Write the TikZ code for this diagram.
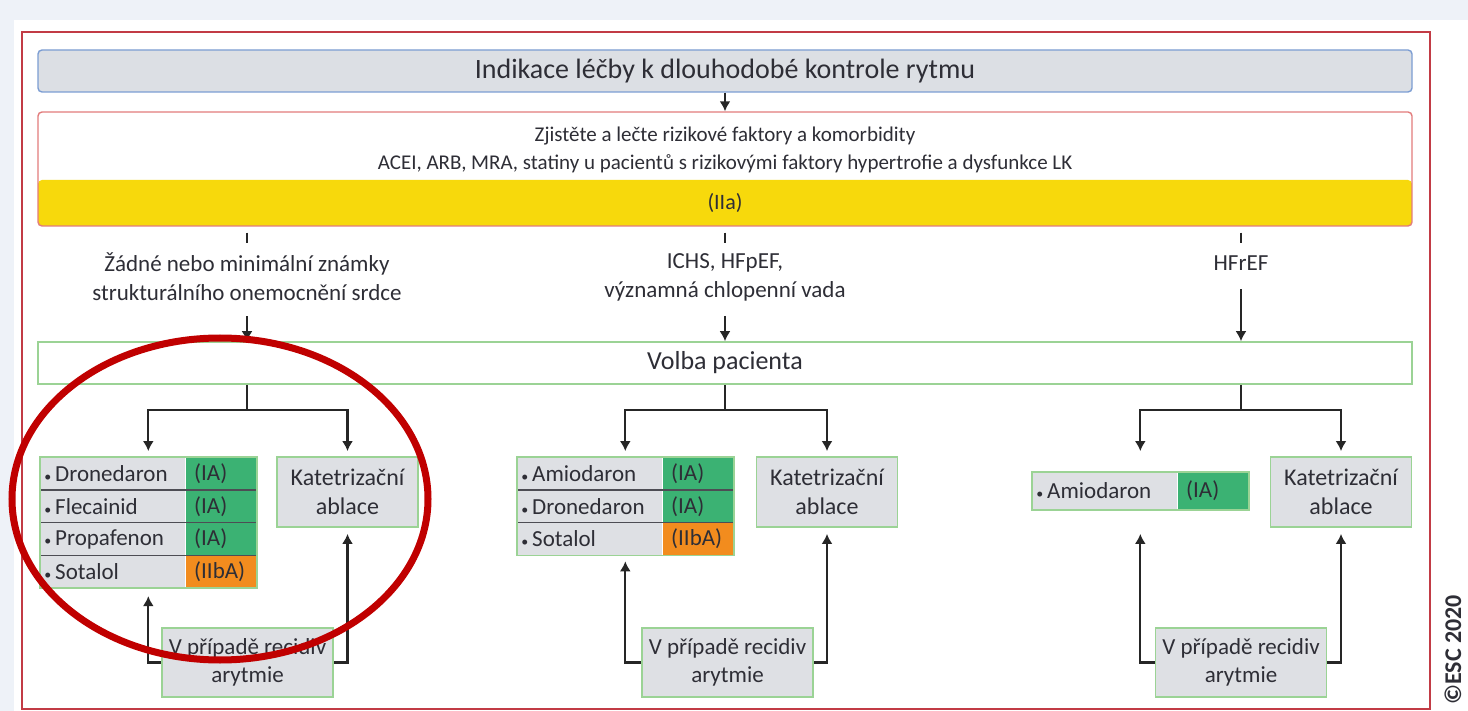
\documentclass[tikz,border=0pt]{standalone}
\usepackage{fontspec}
\setmainfont{Carlito}
\usetikzlibrary{arrows.meta,positioning,fit,calc}
\definecolor{ink}{HTML}{2E2E36}
\definecolor{pagetint}{HTML}{EEF2F8}
\definecolor{framered}{HTML}{C23B45}
\definecolor{titlefill}{HTML}{DCDFE4}
\definecolor{titleline}{HTML}{7C9DD3}
\definecolor{riskline}{HTML}{E27C7C}
\definecolor{bandyellow}{HTML}{F7D90C}
\definecolor{boxgreen}{HTML}{9BD395}
\definecolor{cellgray}{HTML}{DEE0E4}
\definecolor{classgreen}{HTML}{3BB273}
\definecolor{classorange}{HTML}{F28C1E}
\definecolor{ringred}{HTML}{C00000}
\newcommand{\itemdot}{{\fontsize{7}{7}\selectfont\textbullet}\,}

\begin{document}
\begin{tikzpicture}[
  x=0.5pt, y=-0.5pt,
  font=\fontsize{12}{14.5}\selectfont, text=ink,
  wide/.style={minimum width=687pt, inner sep=0pt, rounded corners=2pt},
  titlebar/.style={wide, draw=titleline, fill=titlefill, line width=0.7pt,
                   minimum height=21pt, font=\fontsize{14}{16}\selectfont},
  riskframe/.style={wide, draw=riskline, fill=white, line width=0.7pt,
                    minimum height=57pt,
                    path picture={\fill[bandyellow] (path picture bounding box.south west)
                      rectangle ([yshift=23pt]path picture bounding box.south east);}},
  choicebar/.style={draw=boxgreen, fill=white, line width=0.8pt, minimum width=687pt,
                    minimum height=21pt, inner sep=0pt, font=\fontsize{13}{15}\selectfont},
  cond/.style={align=center, font=\fontsize{11.5}{14.5}\selectfont},
  drug/.style={fill=cellgray, anchor=north west, align=left, text width=68.5pt,
               inner xsep=2pt, inner ysep=0pt, minimum height=16pt,
               font=\fontsize{11.5}{13}\selectfont},
  grade/.style={text width=27pt, inner xsep=4pt, inner ysep=0pt, align=left,
                minimum height=16pt, font=\fontsize{11.5}{13}\selectfont},
  IA/.style={grade, fill=classgreen},
  IIbA/.style={grade, fill=classorange},
  tabframe/.style={draw=boxgreen, line width=0.9pt, inner sep=0pt},
  sep/.style={draw=ink!85, line width=0.7pt},
  optbox/.style={draw=boxgreen, fill=cellgray, line width=0.9pt, align=center,
                 inner sep=0pt, minimum width=70.5pt, minimum height=35pt,
                 font=\fontsize{12}{14.5}\selectfont},
  relapse/.style={optbox, minimum width=85.5pt, minimum height=34.5pt,
                  font=\fontsize{11.5}{14}\selectfont},
  wire/.style={line width=1.1pt, draw=black!85},
  flow/.style={wire, -{Latex[length=5pt,width=5.5pt]}}
]
\useasboundingbox (0,0) rectangle (1468,711);
\fill[pagetint] (0,0) rectangle (1468,711);
\fill[white] (14,20) rectangle (1468,711);
\draw[framered, line width=1pt] (22,32) rectangle (1430,709);

% top bars
\node[titlebar] (title) at (725,71) {Indikace léčby k dlouhodobé kontrole rytmu};
\node[riskframe] (riskbox) at (725,169) {};
\node[align=center, font=\fontsize{10.5}{14}\selectfont] (riskfactors) at (725,150)
  {Zjistěte a lečte rizikové faktory a komorbidity\\
   ACEI, ARB, MRA, statiny u pacientů s rizikovými faktory hypertrofie a dysfunkce LK};
\node[font=\fontsize{11}{13}\selectfont] (iia) at (725,203) {(IIa)};
\draw[flow] (title) -- (riskbox);

% patient groups
\node[cond] (lab1) at (247,277) {Žádné nebo minimální známky\\strukturálního onemocnění srdce};
\node[cond] (lab2) at (725,277) {ICHS, HFpEF,\\významná chlopenní vada};
\node[cond] (lab3) at (1241,263) {HFrEF};
\foreach \lab in {lab1,lab2,lab3}
  \draw[wire] ($(riskbox.south -| \lab)+(0,6)$) -- ++(0,10);

\node[choicebar] (volba) at (725,363) {Volba pacienta\hspace{13pt}};
\draw[flow] ($(lab1.south)+(0,8)$) -- (lab1 |- volba.north);
\draw[flow] ($(lab2.south)+(0,8)$) -- (lab2 |- volba.north);
\draw[flow] ($(lab3.south)+(0,12)$) -- (lab3 |- volba.north);

% drug tables
\node[drug] (d1a) at (40,457) {\itemdot Dronedaron};
\node[drug, below=0pt of d1a] (d1b) {\itemdot Flecainid};
\node[drug, below=0pt of d1b] (d1c) {\itemdot Propafenon};
\node[drug, below=0pt of d1c] (d1d) {\itemdot Sotalol};
\node[IA, right=0pt of d1a] (c1a) {(IA)};
\node[IA, right=0pt of d1b] (c1b) {(IA)};
\node[IA, right=0pt of d1c] (c1c) {(IA)};
\node[IIbA, right=0pt of d1d] (c1d) {(IIbA)};
\draw[sep] (d1a.south west) -- (c1a.south east);
\draw[sep] (d1b.south west) -- (c1b.south east);
\draw[sep] (d1c.south west) -- (c1c.south east);
\node[tabframe, fit=(d1a)(c1d)] (tab1) {};

\node[drug] (d2a) at (517,457) {\itemdot Amiodaron};
\node[drug, below=0pt of d2a] (d2b) {\itemdot Dronedaron};
\node[drug, below=0pt of d2b] (d2c) {\itemdot Sotalol};
\node[IA, right=0pt of d2a] (c2a) {(IA)};
\node[IA, right=0pt of d2b] (c2b) {(IA)};
\node[IIbA, right=0pt of d2c] (c2c) {(IIbA)};
\draw[sep] (d2a.south west) -- (c2a.south east);
\draw[sep] (d2b.south west) -- (c2b.south east);
\node[tabframe, fit=(d2a)(c2c)] (tab2) {};

\node[drug, minimum height=18.5pt] (d3a) at (1032,472) {\itemdot Amiodaron};
\node[IA, minimum height=18.5pt, right=0pt of d3a] (c3a) {(IA)};
\node[tabframe, fit=(d3a)(c3a)] (tab3) {};

% ablation and relapse boxes
\node[optbox] (abl1) at (347.5,492) {Katetrizační\\ablace};
\node[optbox] (abl2) at (827,492) {Katetrizační\\ablace};
\node[optbox] (abl3) at (1341,492) {Katetrizační\\ablace};
\node[relapse] (rec1) at (247.5,662.5) {V případě recidiv\\arytmie};
\node[relapse] (rec2) at (727.5,662.5) {V případě recidiv\\arytmie};
\node[relapse] (rec3) at (1241,662.5) {V případě recidiv\\arytmie};

% forks below the choice bar
\coordinate (fork1) at (247,410);
\coordinate (fork2) at (725,410);
\coordinate (fork3) at (1241,410);
\draw[wire] (volba.south -| fork1) -- (fork1);
\draw[wire] (volba.south -| fork2) -- (fork2);
\draw[wire] (volba.south -| fork3) -- (fork3);
\draw[flow] (fork1) -| ($(tab1.north)+(0,-5)$);
\draw[flow] (fork1) -| ($(abl1.north)+(0,-5)$);
\draw[flow] (fork2) -| ($(tab2.north)+(0,-5)$);
\draw[flow] (fork2) -| ($(abl2.north)+(0,-5)$);
\draw[flow] (fork3) -| ($(tab3.north |- abl3.north)+(0,-5)$);
\draw[flow] (fork3) -| ($(abl3.north)+(0,-5)$);

% relapse loops
\draw[flow] (rec1.west) -| ($(tab1.south)+(0,7)$);
\draw[flow] (rec1.east) -| ($(abl1.south)+(0,6)$);
\draw[flow] (rec2.west) -| ($(tab2.south)+(0,5)$);
\draw[flow] (rec2.east) -| ($(abl2.south)+(0,6)$);
\draw[flow] (rec3.west) -| ($(tab3.south |- abl3.south)+(0,6)$);
\draw[flow] (rec3.east) -| ($(abl3.south)+(0,6)$);

\node[rotate=90, font=\fontsize{12}{13}\selectfont\bfseries] (esc) at (1453,650) {©ESC 2020};
\draw[ringred, line width=3.5pt] (220,499) ellipse [x radius=104pt, y radius=80.5pt];
\end{tikzpicture}
\end{document}
